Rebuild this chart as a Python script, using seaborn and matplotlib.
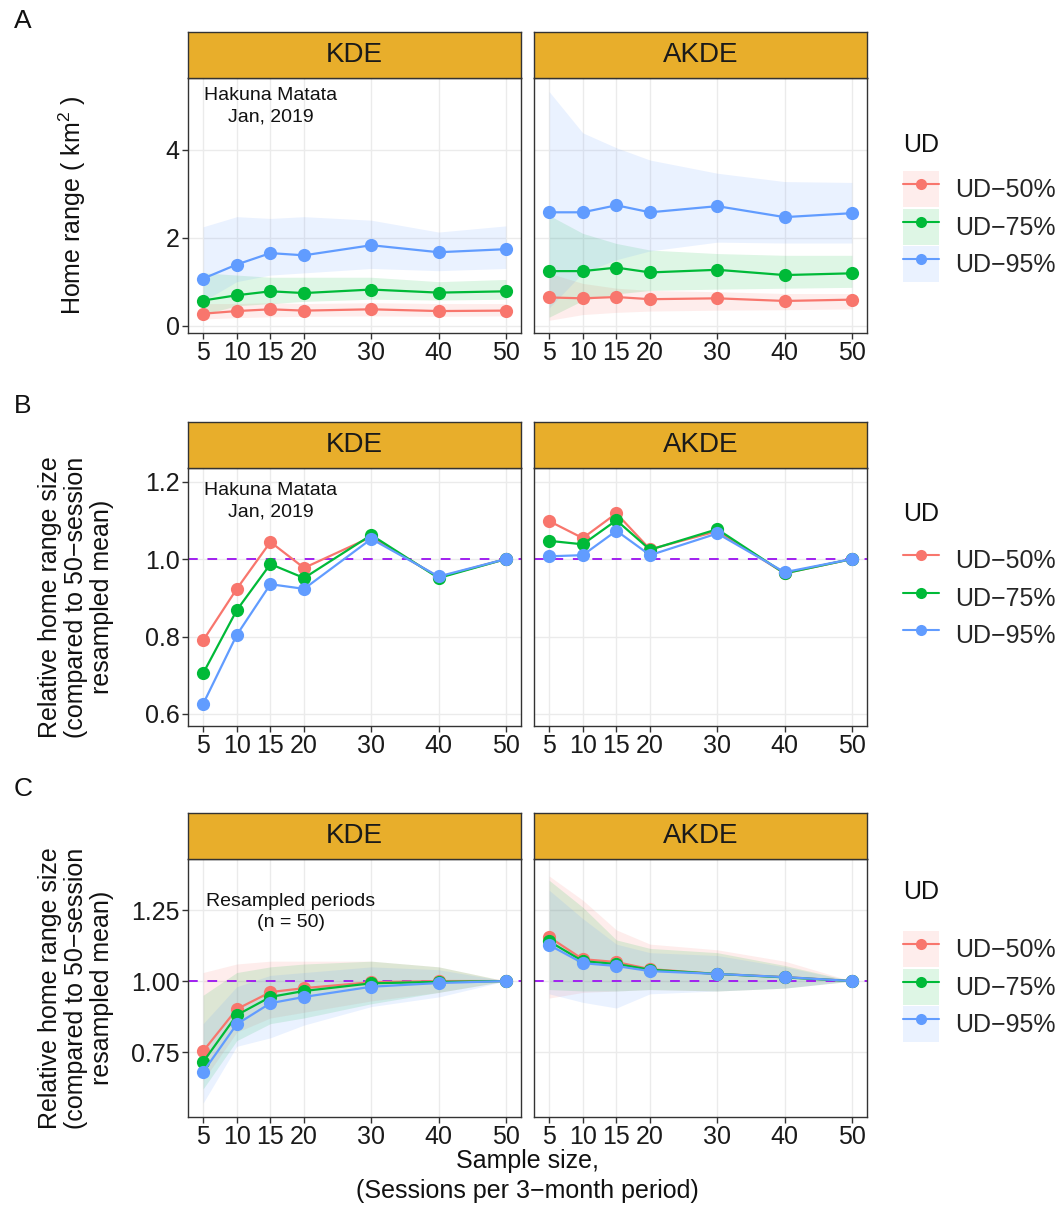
import numpy as np
import pandas as pd
import matplotlib
matplotlib.use("Agg")
import matplotlib.pyplot as plt
import seaborn as sns
from matplotlib.lines import Line2D
from matplotlib.patches import Patch

# ---------------- data ----------------
sample_sizes = [5, 10, 15, 20, 30, 40, 50]
ud_levels = ["UD\u221250%", "UD\u221275%", "UD\u221295%"]
facets = ["KDE", "AKDE"]

# Panel A: home range (km2), rows = UD-50, UD-75, UD-95
a_kde_mean = [[0.27, 0.33, 0.37, 0.34, 0.37, 0.33, 0.34],
              [0.57, 0.69, 0.78, 0.74, 0.82, 0.75, 0.78],
              [1.07, 1.39, 1.65, 1.60, 1.83, 1.67, 1.74]]
a_kde_lower = [[0.15, 0.18, 0.20, 0.21, 0.22, 0.21, 0.22],
               [0.25, 0.45, 0.50, 0.55, 0.60, 0.58, 0.60],
               [0.55, 1.00, 1.15, 1.20, 1.30, 1.25, 1.30]]
a_kde_upper = [[0.50, 0.50, 0.52, 0.50, 0.52, 0.50, 0.50],
               [1.20, 1.15, 1.10, 1.10, 1.10, 1.00, 1.05],
               [2.25, 2.48, 2.44, 2.48, 2.40, 2.13, 2.27]]
a_akde_mean = [[0.64, 0.62, 0.65, 0.60, 0.62, 0.56, 0.59],
               [1.24, 1.24, 1.32, 1.21, 1.27, 1.15, 1.19],
               [2.58, 2.58, 2.74, 2.58, 2.72, 2.47, 2.56]]
a_akde_lower = [[0.12, 0.25, 0.30, 0.33, 0.35, 0.36, 0.38],
                [0.19, 0.57, 0.72, 0.80, 0.83, 0.85, 0.87],
                [0.40, 1.20, 1.50, 1.70, 1.90, 1.88, 1.88]]
a_akde_upper = [[1.19, 0.96, 0.85, 0.80, 0.77, 0.73, 0.73],
                [2.51, 2.10, 1.87, 1.72, 1.64, 1.60, 1.60],
                [5.33, 4.39, 4.05, 3.77, 3.47, 3.28, 3.26]]

# Panel B: relative size, single period
b_kde_mean = [[0.790, 0.923, 1.044, 0.977, 1.057, 0.953, 1.000],
              [0.705, 0.868, 0.987, 0.951, 1.062, 0.951, 1.000],
              [0.626, 0.804, 0.935, 0.923, 1.052, 0.955, 1.000]]
b_akde_mean = [[1.098, 1.054, 1.118, 1.025, 1.072, 0.963, 1.000],
               [1.047, 1.038, 1.100, 1.024, 1.077, 0.963, 1.000],
               [1.007, 1.010, 1.073, 1.010, 1.066, 0.966, 1.000]]

# Panel C: relative size, resampled periods
c_kde_mean = [[0.753, 0.901, 0.961, 0.975, 0.996, 1.000, 1.000],
              [0.715, 0.880, 0.944, 0.965, 0.992, 0.997, 1.000],
              [0.680, 0.848, 0.922, 0.944, 0.980, 0.993, 1.000]]
c_kde_lower = [[0.65, 0.82, 0.87, 0.89, 0.93, 0.96, 1.00],
               [0.62, 0.79, 0.85, 0.87, 0.92, 0.96, 1.00],
               [0.57, 0.77, 0.80, 0.845, 0.91, 0.944, 1.00]]
c_kde_upper = [[1.03, 1.06, 1.07, 1.07, 1.07, 1.05, 1.00],
               [0.95, 1.03, 1.05, 1.06, 1.07, 1.05, 1.00],
               [0.85, 0.98, 1.02, 1.03, 1.05, 1.04, 1.00]]
c_akde_mean = [[1.155, 1.077, 1.067, 1.042, 1.025, 1.014, 1.000],
               [1.140, 1.070, 1.060, 1.040, 1.025, 1.013, 1.000],
               [1.127, 1.063, 1.053, 1.035, 1.025, 1.014, 1.000]]
c_akde_lower = [[0.94, 0.96, 0.965, 0.97, 0.965, 0.975, 1.00],
                [0.97, 0.965, 0.965, 0.97, 0.965, 0.975, 1.00],
                [0.955, 0.925, 0.905, 0.955, 0.965, 0.975, 1.00]]
c_akde_upper = [[1.37, 1.285, 1.18, 1.13, 1.11, 1.07, 1.00],
                [1.355, 1.26, 1.145, 1.115, 1.10, 1.055, 1.00],
                [1.32, 1.22, 1.13, 1.10, 1.09, 1.05, 1.00]]

panel_letters = ["A", "B", "C"]
y_titles = ["Home range ( km$^{2}$ )",
            "Relative home range size\n(compared to 50\u2212session\nresampled mean)",
            "Relative home range size\n(compared to 50\u2212session\nresampled mean)"]
y_ticks = [[0, 2, 4], [0.6, 0.8, 1.0, 1.2], [0.75, 1.00, 1.25]]
y_ticklabels = [["0", "2", "4"], ["0.6", "0.8", "1.0", "1.2"], ["0.75", "1.00", "1.25"]]
annotations = ["Hakuna Matata\nJan, 2019", "Hakuna Matata\nJan, 2019",
               "Resampled periods\n(n = 50)"]
x_title = "Sample size,\n(Sessions per 3\u2212month period)"
legend_title = "UD"

# ---------------- style ----------------
sns.set_theme(style="white")
plt.rcParams["font.family"] = ["Liberation Sans", "DejaVu Sans"]
plt.rcParams["mathtext.fontset"] = "custom"
plt.rcParams["mathtext.rm"] = "Liberation Sans"
plt.rcParams["mathtext.default"] = "regular"

palette = ["#F8766D", "#00BA38", "#619CFF"]
strip_col = "#E8AE2B"
frame_col = "#333333"
dash_col = "#A020F0"

W, H = 1063, 1218
fig = plt.figure(figsize=(W / 100, H / 100), dpi=100)


def px_axes(x0, y0, x1, y1):
    return fig.add_axes([x0 / W, 1 - y1 / H, (x1 - x0) / W, (y1 - y0) / H])


facet_x = [(188, 521), (534, 867)]
# (strip top, panel top, panel bottom)
panel_y = [(32, 78, 333), (422, 468, 726), (813, 859, 1117)]
y_limits = [(-0.17, 5.64), (0.569, 1.235), (0.521, 1.43)]
ann_pos = [(15, 5.0), (15, 1.15), (18, 1.243)]
letter_y = [21, 406, 789]
legend_title_y = [145, 514, 892]
legend_first_y = [189, 560, 949]

means = [[a_kde_mean, a_akde_mean], [b_kde_mean, b_akde_mean], [c_kde_mean, c_akde_mean]]
lowers = [[a_kde_lower, a_akde_lower], None, [c_kde_lower, c_akde_lower]]
uppers = [[a_kde_upper, a_akde_upper], None, [c_kde_upper, c_akde_upper]]

for p in range(3):
    st, pt, pb = panel_y[p]
    for f in range(2):
        fx0, fx1 = facet_x[f]
        ax = px_axes(fx0, pt, fx1, pb)
        # ribbons
        if lowers[p] is not None:
            for i in range(3):
                ax.fill_between(sample_sizes, lowers[p][f][i], uppers[p][f][i],
                                color=palette[i], alpha=0.13, lw=0, zorder=1)
        if p > 0:
            ax.axhline(1.0, color=dash_col, ls=(0, (5, 5)), lw=1.4, zorder=1.6)
        rows = []
        for i, ud in enumerate(ud_levels):
            for n, v in zip(sample_sizes, means[p][f][i]):
                rows.append({"n": n, "value": v, "UD": ud})
        df = pd.DataFrame(rows)
        sns.lineplot(data=df, x="n", y="value", hue="UD", hue_order=ud_levels,
                     palette=palette, marker="o", markersize=9.5,
                     markeredgewidth=0, lw=1.6, errorbar=None, legend=False,
                     ax=ax, zorder=3)
        ax.set_xlim(2.75, 52.25)
        ax.set_ylim(*y_limits[p])
        ax.set_xticks(sample_sizes)
        ax.set_xticklabels([str(s) for s in sample_sizes])
        ax.set_yticks(y_ticks[p])
        ax.set_yticklabels(y_ticklabels[p])
        ax.grid(True, color="#EBEBEB", lw=1.0)
        ax.set_axisbelow(True)
        ax.set_xlabel("")
        ax.set_ylabel("")
        for s in ax.spines.values():
            s.set_color(frame_col)
            s.set_linewidth(1.0)
        ax.tick_params(axis="both", length=4, width=1, color=frame_col,
                       labelsize=18, labelcolor="#1a1a1a", pad=2,
                       bottom=True, left=(f == 0), labelleft=(f == 0))
        if f == 0:
            ax.text(ann_pos[p][0], ann_pos[p][1], annotations[p], ha="center",
                    va="center", fontsize=14, linespacing=1.35, color="#111111")
        # strip
        sax = px_axes(fx0, st, fx1, pt)
        sax.set_facecolor(strip_col)
        sax.set_xticks([])
        sax.set_yticks([])
        for s in sax.spines.values():
            s.set_color(frame_col)
            s.set_linewidth(1.0)
        sax.text(0.5, 0.5, facets[f], ha="center", va="center", fontsize=20,
                 color="#1a1a1a", transform=sax.transAxes)

    # panel letter
    fig.text(14 / W, 1 - letter_y[p] / H, panel_letters[p], fontsize=19,
             ha="left", va="center", color="#111111")
    # y title
    fig.text((72 if p == 0 else 76) / W, 1 - (pt + pb) / 2 / H, y_titles[p],
             rotation=90, ha="center", va="center", fontsize=18,
             linespacing=1.1, color="#111111")
    # legend
    handles = []
    for i in range(3):
        line = Line2D([], [], color=palette[i], marker="o", markersize=8,
                      markeredgewidth=0, lw=1.5)
        if lowers[p] is not None:
            patch = Patch(facecolor=palette[i], alpha=0.13, edgecolor="none")
            handles.append((patch, line))
        else:
            handles.append(line)
    fig.text(903 / W, 1 - legend_title_y[p] / H, legend_title, fontsize=18,
             ha="left", va="center", color="#111111")
    fig.legend(handles, ud_levels, loc="upper left",
               bbox_to_anchor=(903 / W, 1 - (legend_first_y[p] - 18) / H),
               frameon=False, fontsize=18,
               handlelength=1.44, handleheight=1.845, labelspacing=0.06,
               handletextpad=0.64, borderaxespad=0, borderpad=0)

fig.text(527 / W, 1 - 1176 / H, x_title, ha="center", va="center",
         fontsize=18, linespacing=1.35, color="#111111")

fig.savefig("out.png", dpi=100)
